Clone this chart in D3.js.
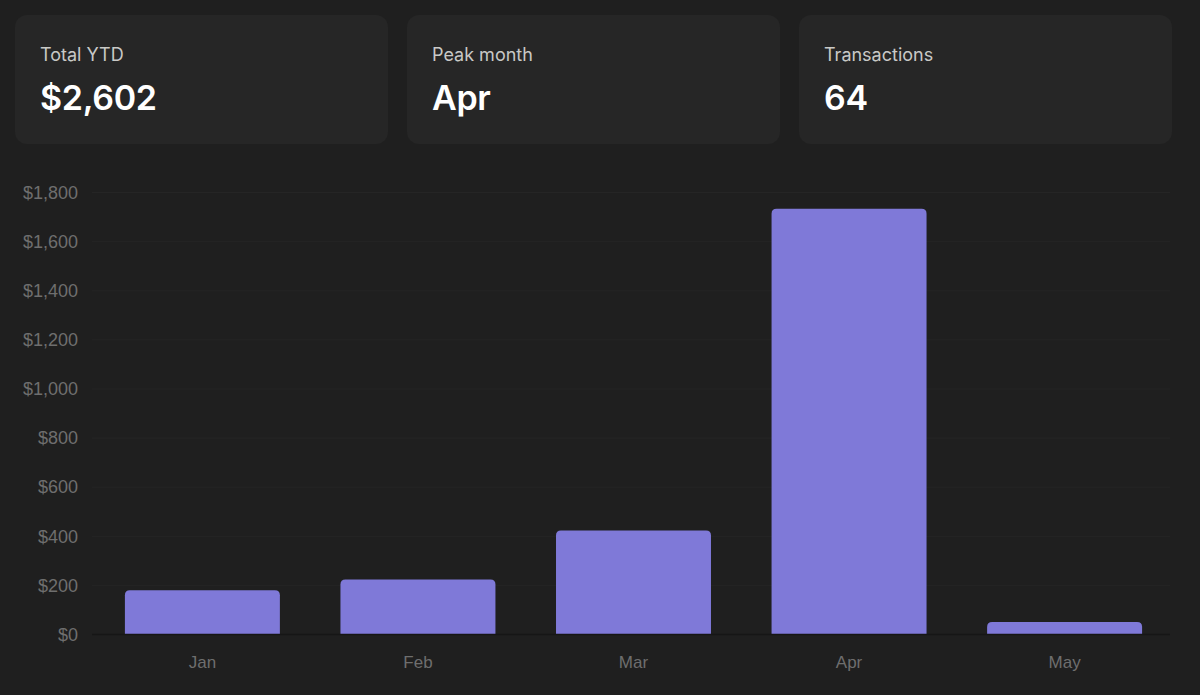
<!DOCTYPE html>
<html>
<head>
<meta charset="utf-8">
<script src="https://cdn.jsdelivr.net/npm/d3@7"></script>
<style>
  html, body { margin: 0; padding: 0; background: #1f1f1f; }
  body { width: 1200px; height: 695px; overflow: hidden; }
  .cards { position: absolute; left: 15px; top: 15px; display: flex; gap: 19px; }
  .card {
    width: 373px; height: 129px; box-sizing: border-box;
    background: #262626; border-radius: 12px; padding: 28px 25px;
    font-family: Inter, "Noto Sans", sans-serif;
  }
  .card .label { color: #c9c9c6; font-size: 18px; line-height: 24px; }
  .card .value { color: #ffffff; font-size: 34px; font-weight: 600; line-height: 42px; margin-top: 10px; letter-spacing: -0.3px; }
  .canvas { position: absolute; left: 0; top: 0; }
</style>
</head>
<body>
<div class="cards"></div>
<div class="canvas"></div>
<script>
const months = ["Jan", "Feb", "Mar", "Apr", "May"];
const totals = [178, 222, 421, 1732, 49];
const yTicks = [0, 200, 400, 600, 800, 1000, 1200, 1400, 1600, 1800];
const statLabels = ["Total YTD", "Peak month", "Transactions"];
const statValues = ["$2,602", "Apr", "64"];

d3.select(".cards")
  .selectAll(".card")
  .data(statLabels)
  .enter()
  .append("div")
  .attr("class", "card")
  .html((d, i) => `<div class="label">${d}</div><div class="value">${statValues[i]}</div>`);

const width = 1200;
const height = 695;
const margin = { top: 192, right: 30, bottom: 61, left: 92 };

const svg = d3
  .select(".canvas")
  .append("svg")
  .attr("width", width)
  .attr("height", height);

const x = d3
  .scaleBand()
  .domain(months)
  .range([margin.left + 1, width - margin.right + 4])
  .paddingInner(0.281)
  .paddingOuter(0.148);

const y = d3
  .scaleLinear()
  .domain([0, 1800])
  .range([height - margin.bottom, margin.top]);

// grid
svg
  .append("g")
  .selectAll("line")
  .data(yTicks.slice(1))
  .enter()
  .append("line")
  .attr("x1", margin.left)
  .attr("x2", width - margin.right)
  .attr("y1", (d) => y(d) + 0.5)
  .attr("y2", (d) => y(d) + 0.5)
  .attr("stroke", "#252525")
  .attr("stroke-width", 1);

const yAxis = svg
  .append("g")
  .attr("transform", `translate(${margin.left - 14}, 0)`)
  .call(
    d3
      .axisLeft(y)
      .tickValues(yTicks)
      .tickSize(0)
      .tickPadding(0)
      .tickFormat((d) => "$" + d3.format(",")(d))
  );
yAxis.select(".domain").remove();
yAxis
  .selectAll("text")
  .attr("fill", "#6e6e6e")
  .attr("font-family", "'Liberation Sans', Arial, sans-serif")
  .attr("font-size", 18)
  .attr("dy", "0.35em");

// bars with rounded tops
const r = 5;
svg
  .append("g")
  .selectAll("path")
  .data(months)
  .enter()
  .append("path")
  .attr("fill", "#7f79d8")
  .attr("d", (d, i) => {
    const x0 = x(d);
    const w = x.bandwidth();
    const y0 = y(totals[i]);
    const y1 = y(0);
    const rr = Math.min(r, (y1 - y0));
    return `M${x0},${y1}V${y0 + rr}Q${x0},${y0} ${x0 + rr},${y0}H${x0 + w - rr}Q${x0 + w},${y0} ${x0 + w},${y0 + rr}V${y1}Z`;
  });

// baseline
svg
  .append("line")
  .attr("x1", margin.left)
  .attr("x2", width - margin.right)
  .attr("y1", y(0) + 0.5)
  .attr("y2", y(0) + 0.5)
  .attr("stroke", "#161616")
  .attr("stroke-width", 1.5);

const xAxis = svg
  .append("g")
  .attr("transform", `translate(0, ${y(0)})`)
  .call(d3.axisBottom(x).tickSize(0).tickPadding(22));
xAxis.select(".domain").remove();
xAxis
  .selectAll("text")
  .attr("fill", "#6e6e6e")
  .attr("font-family", "'Liberation Sans', Arial, sans-serif")
  .attr("font-size", 17);
</script>
</body>
</html>
